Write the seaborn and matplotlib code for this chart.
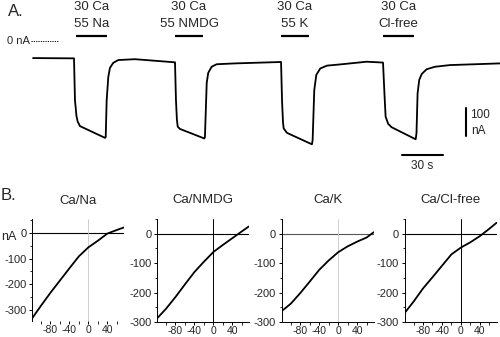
import matplotlib
matplotlib.use("Agg")
import matplotlib.pyplot as plt
import pandas as pd
import seaborn as sns
from matplotlib.ticker import MultipleLocator

# ---------------- Panel A: current trace during solution exchanges ----------------
trace_time_s = [0.0, 30.0, 30.7, 31.8, 32.7, 34.4, 52.7,
                53.2, 53.9, 55.1, 56.3, 58.7, 62.4, 74.6, 103.5,
                103.9, 104.6, 105.3, 105.9, 107.5, 125.3,
                125.8, 127.1, 128.2, 130.7, 134.4, 147.8, 181.5,
                182.2, 182.9, 183.4, 185.8, 204.1,
                204.6, 205.8, 207.3, 210.2, 215.1, 226.1, 244.1, 256.1,
                257.2, 258.0, 259.9, 262.4, 280.0,
                280.6, 281.4, 282.6, 284.4, 288.0, 294.1, 305.1, 341.6]
trace_current_nA = [-61, -62, -211, -268, -288, -304, -346,
                    -343, -211, -128, -96, -78, -68, -65, -76,
                    -76, -211, -282, -306, -314, -348,
                    -343, -150, -114, -92, -83, -80, -75,
                    -211, -289, -312, -328, -369,
                    -354, -175, -121, -98, -88, -83, -74, -77,
                    -193, -270, -296, -308, -351,
                    -329, -187, -139, -118, -101, -92, -86, -80]

solution_top = ["30 Ca", "30 Ca", "30 Ca", "30 Ca"]
solution_bottom = ["55 Na", "55 NMDG", "55 K", "Cl-free"]
solution_on_s = [31.5, 103.9, 181.4, 256.1]
solution_off_s = [54.1, 124.4, 201.9, 278.7]

scale_current_nA = 100
scale_time_s = 30

# ---------------- Panel B: current-voltage relations ----------------
iv_titles = ["Ca/Na", "Ca/NMDG", "Ca/K", "Ca/Cl-free"]
iv_voltage_mV = [-119, -100, -80, -60, -40, -20, 0, 20, 40, 60, 75]
iv_ca_na = [-335, -285, -234, -186, -138, -91, -56, -30, -2, 12, 22]
iv_ca_nmdg = [-288, -255, -215, -172, -130, -95, -62, -38, -15, 8, 25]
iv_ca_k = [-263, -238, -202, -163, -123, -91, -63, -43, -27, -13, 5]
iv_ca_clfree = [-270, -231, -186, -148, -109, -70, -47, -29, -8, 17, 37]
iv_ylims = [(-345, 55), (-300, 50), (-300, 50), (-300, 50)]

sns.set_theme(style="white")
plt.rcParams["font.family"] = ["Liberation Sans", "DejaVu Sans"]

W, H = 500, 337
fig = plt.figure(figsize=(W / 100, H / 100), dpi=100)
fig.patch.set_facecolor("white")


def px_axes(left, top, width, height):
    return fig.add_axes([left / W, 1 - (top + height) / H, width / W, height / H])


# ---- Panel A ----
ax_a = px_axes(0, 0, 500, 180)
ax_a.set_xlim(-24.15, 341.7)
ax_a.set_ylim(-496.4, 146.4)
ax_a.axis("off")

trace = pd.DataFrame({"t": trace_time_s, "i": trace_current_nA})
sns.lineplot(data=trace, x="t", y="i", ax=ax_a, color="black", lw=1.3,
             estimator=None, sort=False, legend=False)

for top, bottom, on, off in zip(solution_top, solution_bottom,
                                solution_on_s, solution_off_s):
    mid = (on + off) / 2
    ax_a.plot([on, off], [18, 18], color="black", lw=1.6, solid_capstyle="butt")
    ax_a.text(mid, 121, top, ha="center", va="center", fontsize=9.5)
    ax_a.text(mid, 61, bottom, ha="center", va="center", fontsize=9.5)

# zero-current reference
ax_a.plot([-1.5, 18.3], [0, 0], color="black", lw=0.7, linestyle=(0, (1.2, 1.2)))
ax_a.text(-2.6, 0, "0 nA", ha="right", va="center", fontsize=8)

# scale bars
bar_t = 316.8
ax_a.plot([bar_t, bar_t], [-239, -239 - scale_current_nA], color="black", lw=1.5)
ax_a.text(bar_t + 3.2, -264, f"{scale_current_nA}", ha="left", va="center", fontsize=8.5)
ax_a.text(bar_t + 3.6, -321, "nA", ha="left", va="center", fontsize=8.5)
ax_a.plot([270, 270 + scale_time_s], [-407, -407], color="black", lw=1.5)
ax_a.text(270 + scale_time_s / 2, -445, f"{scale_time_s} s", ha="center", va="center", fontsize=8.5)

fig.text(8 / W, 1 - 12 / H, "A.", ha="left", va="center", fontsize=12)

# ---- Panel B ----
iv_series = [iv_ca_na, iv_ca_nmdg, iv_ca_k, iv_ca_clfree]
lefts = [32, 157, 281.7, 404.5]
vline_colors = ["#c8c8c8", "black", "#c8c8c8", "black"]
hline_colors = ["black", "black", "#555555", "black"]

for k, (title, cur) in enumerate(zip(iv_titles, iv_series)):
    ylo, yhi = iv_ylims[k]
    height = 102 if k == 0 else 103
    ax = px_axes(lefts[k], 219, 92, height)
    ax.set_facecolor("none")
    df = pd.DataFrame({"V": iv_voltage_mV, "I": cur})
    ax.axhline(0, color=hline_colors[k], lw=0.8, zorder=1)
    ax.axvline(0, color=vline_colors[k], lw=0.7 if k in (1, 3) else 0.6, zorder=1)
    sns.lineplot(data=df, x="V", y="I", ax=ax, color="black", lw=1.3,
                 estimator=None, sort=False, legend=False, zorder=3)
    ax.set_xlim(-119, 75)
    ax.set_ylim(ylo, yhi)
    ax.set_xlabel("")
    ax.set_ylabel("")
    ax.set_xticks([-80, -40, 0, 40])
    ax.set_xticklabels(["-80", "-40", "0", "40"])
    ax.set_yticks([0, -100, -200, -300])
    ax.set_yticklabels(["0", "-100", "-200", "-300"])
    ax.xaxis.set_minor_locator(MultipleLocator(20))
    ax.yaxis.set_minor_locator(MultipleLocator(50))
    ax.tick_params(axis="both", which="major", direction="out", length=2.5, width=0.7,
                   color="black", bottom=True, left=True)
    ax.tick_params(axis="y", which="major", labelsize=8, pad=1.5)
    ax.tick_params(axis="x", which="major", labelsize=7.5, pad=0.6)
    ax.tick_params(axis="both", which="minor", direction="out", length=1.8, width=0.6,
                   color="black", bottom=True, left=True)
    for side in ("top", "right"):
        ax.spines[side].set_visible(False)
    ax.spines["left"].set_color("black")
    ax.spines["left"].set_linewidth(0.7)
    ax.spines["bottom"].set_color("black")
    ax.spines["bottom"].set_linewidth(0.7)
    if k == 0:
        ax.spines["bottom"].set_visible(False)
    ax.text(0.5, 1.18, title, transform=ax.transAxes, ha="center", va="center", fontsize=9.5)

fig.text(1 / W, 1 - 237 / H, "nA", ha="left", va="center", fontsize=9)
fig.text(1 / W, 1 - 196 / H, "B.", ha="left", va="center", fontsize=12)

fig.savefig("out.png", dpi=100, facecolor="white")
